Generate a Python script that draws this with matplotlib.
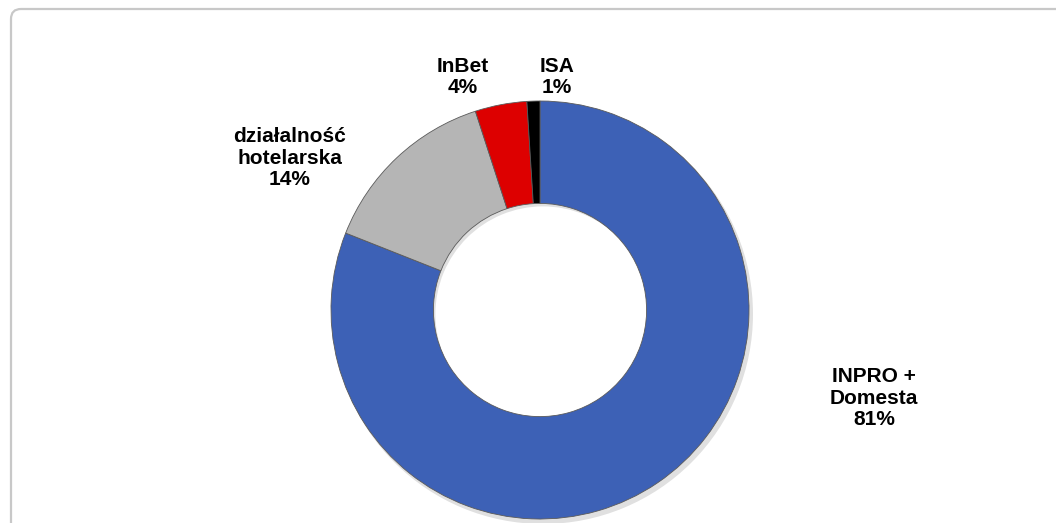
import matplotlib.pyplot as plt
from matplotlib.patches import FancyBboxPatch

# dane wykresu
kategorie = ["INPRO +\nDomesta", "działalność\nhotelarska", "InBet", "ISA"]
udzialy = [81, 14, 4, 1]
kolory = ["#3D61B6", "#B5B5B5", "#DD0000", "#000000"]

# pozycje etykiet w pikselach (x, y od gory)
pozycje_etykiet = [(874, 398), (290, 158), (463, 77), (557, 77)]

plt.rcParams['font.family'] = ['Liberation Sans', 'DejaVu Sans']

W, H = 1056, 523
fig = plt.figure(figsize=(W / 100, H / 100), dpi=100)
ax = fig.add_axes([0, 0, 1, 1])

# ramka z zaokraglonym rogiem
ramka = FancyBboxPatch((11, 9), W + 50, H + 50,
                       boxstyle="round,pad=0,rounding_size=10",
                       facecolor="white", edgecolor="#C8C8C8", linewidth=1.6)
ax.add_patch(ramka)

cx, cy, r = 540, 310, 209

# cien pod pierscieniem
ax.pie([1], colors=["#000000"], radius=r + 1, center=(cx + 3, cy + 4),
       wedgeprops=dict(width=r * 0.49, alpha=0.12, linewidth=0))

# pierscien (os y odwrocona, wiec kierunek i kat startu sa lustrzane)
ax.pie(udzialy, colors=kolory, radius=r, center=(cx, cy),
       startangle=-90, counterclock=True,
       wedgeprops=dict(width=r * 0.49, edgecolor="#5a5a5a", linewidth=0.6))

ax.set_xlim(0, W)
ax.set_ylim(H, 0)
ax.set_aspect('equal')
ax.axis('off')

for nazwa, wart, (x, y) in zip(kategorie, udzialy, pozycje_etykiet):
    ax.text(x, y, f"{nazwa}\n{wart}%", ha="center", va="center",
            fontsize=15, fontweight="bold", color="black", linespacing=1.15)

fig.savefig("out.png", dpi=100)
